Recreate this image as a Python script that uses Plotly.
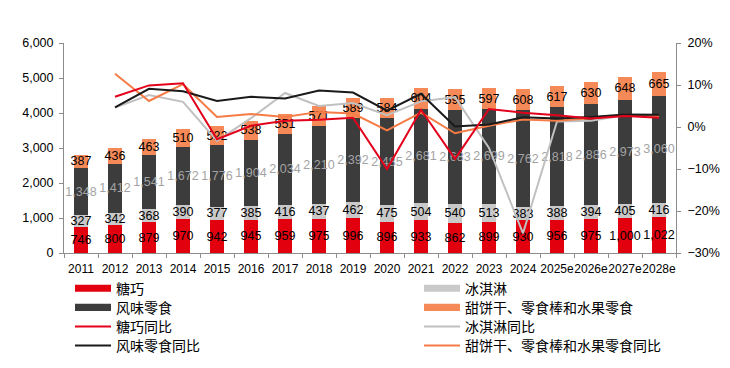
import plotly.graph_objects as go

years = ["2011", "2012", "2013", "2014", "2015", "2016", "2017", "2018", "2019",
         "2020", "2021", "2022", "2023", "2024", "2025e", "2026e", "2027e", "2028e"]

candy = [746, 800, 879, 970, 942, 945, 959, 975, 996, 896, 933, 862, 899, 930, 956, 975, 1000, 1022]
icecream = [327, 342, 368, 390, 377, 385, 416, 437, 462, 475, 504, 540, 513, 383, 388, 394, 405, 416]
savory = [1348, 1412, 1541, 1672, 1776, 1904, 2034, 2210, 2392, 2485, 2681, 2683, 2699, 2762, 2818, 2886, 2973, 3060]
biscuit = [387, 436, 463, 510, 522, 538, 551, 571, 589, 584, 604, 595, 597, 608, 617, 630, 648, 665]

# year-on-year growth (%), 2012 onward
candy_yoy = [None, 7.2, 9.9, 10.4, -2.9, 0.3, 1.5, 1.7, 2.2, -10.0, 4.1, -7.6, 4.3, 3.4, 2.8, 2.0, 2.6, 2.2]
icecream_yoy = [None, 4.6, 7.6, 6.0, -3.3, 2.1, 8.1, 5.0, 5.7, 2.8, 6.1, 7.1, -5.0, -25.3, 1.3, 1.5, 2.8, 2.7]
savory_yoy = [None, 4.7, 9.1, 8.5, 6.2, 7.2, 6.8, 8.7, 8.2, 3.9, 7.9, 0.1, 0.6, 2.3, 2.0, 2.4, 3.0, 2.9]
biscuit_yoy = [None, 12.7, 6.2, 10.2, 2.4, 3.1, 2.4, 3.6, 3.2, -0.8, 3.4, -1.5, 0.3, 1.8, 1.5, 2.1, 2.9, 2.6]

bar_names = ["糖巧", "冰淇淋", "风味零食", "甜饼干、零食棒和水果零食"]
line_names = ["糖巧同比", "冰淇淋同比", "风味零食同比", "甜饼干、零食棒和水果零食同比"]

C_RED = "#E2000F"
C_ICE = "#C9C9C9"
C_SAV = "#3C3C3C"
C_BIS = "#F58A58"
L_RED = "#E3001B"
L_ICE = "#C0C0C0"
L_SAV = "#1A1A1A"
L_BIS = "#F57C46"

FONT = "Liberation Sans, Arial, Noto Sans CJK SC, sans-serif"
CJK = "Noto Sans CJK SC, Liberation Sans, sans-serif"

fig = go.Figure()

bar_specs = [
    (candy, bar_names[0], C_RED, "#000000"),
    (icecream, bar_names[1], C_ICE, "#000000"),
    (savory, bar_names[2], C_SAV, "#A3A3A3"),
    (biscuit, bar_names[3], C_BIS, "#000000"),
]
for vals, name, col, tcol in bar_specs:
    tf = dict(family=FONT, size=12.5, color=tcol, shadow="none")
    fig.add_trace(go.Bar(
        x=years, y=vals, name=name, marker=dict(color=col, line=dict(width=0)),
        width=0.42, texttemplate="%{y:,}", textposition="inside", textangle=0,
        insidetextanchor="middle", constraintext="none",
        textfont=tf, insidetextfont=tf,
        showlegend=False, cliponaxis=False,
    ))

line_specs = [
    (icecream_yoy, line_names[1], L_ICE),
    (biscuit_yoy, line_names[3], L_BIS),
    (savory_yoy, line_names[2], L_SAV),
    (candy_yoy, line_names[0], L_RED),
]
for vals, name, col in line_specs:
    fig.add_trace(go.Scatter(
        x=years, y=[None if v is None else v / 100 for v in vals], name=name,
        mode="lines", line=dict(color=col, width=2), yaxis="y2", showlegend=False,
    ))

# page has an 8px body margin, so the figure is drawn from (8, 8)
OFF = 8
W, H = 730 - OFF, 368 - OFF
L, T = 64 - OFF, 43 - OFF
pw, ph = 612, 209.7
R = W - L - pw
B = H - T - ph


def px(x):
    return (x - OFF - L) / pw


def py(y):
    return (T + ph - (y - OFF)) / ph


shapes = []
annotations = []
legend_items = [
    ("bar", C_RED, bar_names[0], 0, 288),
    ("bar", C_ICE, bar_names[1], 1, 288),
    ("bar", C_SAV, bar_names[2], 0, 307),
    ("bar", C_BIS, bar_names[3], 1, 307),
    ("line", L_RED, line_names[0], 0, 326),
    ("line", L_ICE, line_names[1], 1, 326),
    ("line", L_SAV, line_names[2], 0, 345),
    ("line", L_BIS, line_names[3], 1, 345),
]
col_x = [75, 424]
for kind, col, name, c, yy in legend_items:
    x0 = col_x[c]
    if kind == "bar":
        shapes.append(dict(type="rect", xref="paper", yref="paper",
                           x0=px(x0), x1=px(x0 + 36), y0=py(yy + 3.5), y1=py(yy - 3.5),
                           fillcolor=col, line=dict(width=0)))
    else:
        shapes.append(dict(type="line", xref="paper", yref="paper",
                           x0=px(x0), x1=px(x0 + 36), y0=py(yy), y1=py(yy),
                           line=dict(color=col, width=2)))
    annotations.append(dict(xref="paper", yref="paper", x=px(x0 + 39), y=py(yy),
                            xanchor="left", yanchor="middle", text=name, showarrow=False,
                            font=dict(family=CJK, size=14, color="#000000")))

fig.update_layout(
    width=W, height=H,
    margin=dict(l=L, r=R, t=T, b=B, pad=0),
    barmode="stack",
    paper_bgcolor="white", plot_bgcolor="white",
    font=dict(family=FONT, size=12, color="#000000"),
    xaxis=dict(
        type="category", showline=True, linecolor="#8C8C8C", linewidth=1,
        ticks="outside", tickson="boundaries", ticklen=4, tickcolor="#8C8C8C",
        tickangle=0, tickfont=dict(family=FONT, size=12, color="#000000"), showgrid=False,
        range=[-0.5, 17.5], automargin=False, ticklabelstandoff=5,
    ),
    yaxis=dict(
        range=[0, 6000], dtick=1000, tickformat=",", showline=True,
        linecolor="#8C8C8C", linewidth=1, ticks="outside", ticklen=4,
        tickcolor="#8C8C8C", showgrid=False, zeroline=False, automargin=False,
        tickfont=dict(family=FONT, size=12.5, color="#000000"), ticklabelstandoff=3,
    ),
    yaxis2=dict(
        range=[-0.3, 0.2], dtick=0.1, tickformat=".0%", overlaying="y", side="right",
        showline=True, linecolor="#8C8C8C", linewidth=1, ticks="outside", ticklen=4,
        tickcolor="#8C8C8C", showgrid=False, zeroline=False, automargin=False,
        tickfont=dict(family=FONT, size=12.5, color="#000000"), ticklabelstandoff=4,
    ),
    shapes=shapes,
    annotations=annotations,
    showlegend=False,
)

fig.write_html("out.html")
